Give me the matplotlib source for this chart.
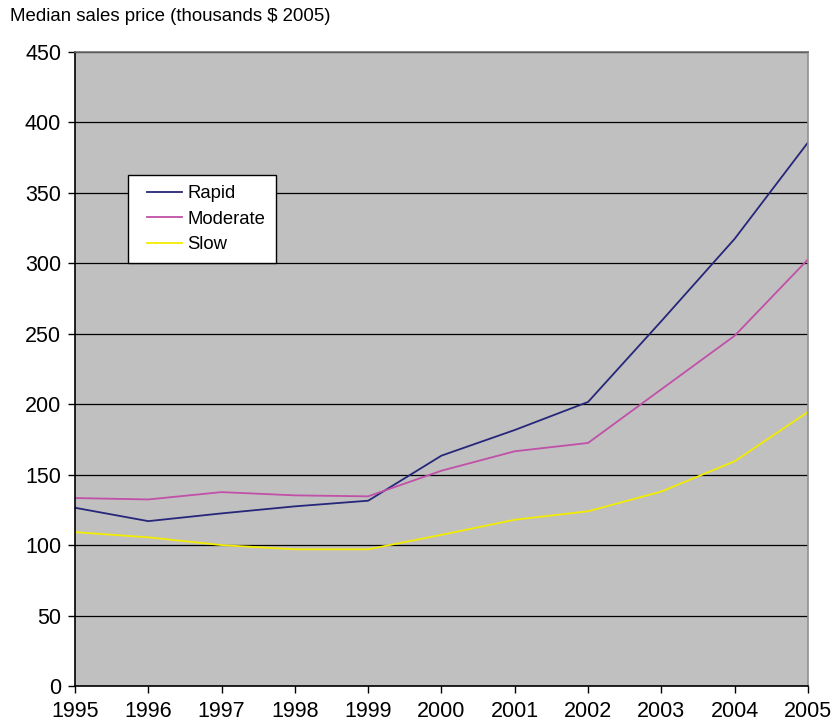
import numpy as np
import matplotlib
matplotlib.use('Agg')
import matplotlib.pyplot as plt
from matplotlib.legend_handler import HandlerLine2D

"""
median sales price by growth category, 1995-2005
"""

plt.rcParams['font.family'] = ['Liberation Sans', 'DejaVu Sans']

years = [1995, 1996, 1997, 1998, 1999, 2000, 2001, 2002, 2003, 2004, 2005]
rapid = [126.5, 117, 122.5, 127.5, 131.5, 163.5, 181.7, 201.6, 259, 317.4, 385.8]
moderate = [133.4, 132.4, 137.6, 135.3, 134.6, 152.8, 166.6, 172.5, 210.6, 248.6, 302.8]
slow = [109.2, 105.5, 100, 97, 97, 107.3, 118, 124, 138, 159.5, 194.5]
yticks = list(range(0, 451, 50))


class InsetLine(HandlerLine2D):
    # legend line that starts a bit in from the left of its slot
    def get_xdata(self, legend, xdescent, ydescent, width, height, fontsize):
        xdata, xmark = super().get_xdata(legend, xdescent, ydescent,
                                         width, height, fontsize)
        start = -xdescent + 0.2 * width
        return [start, -xdescent + width], xmark


def make_plot():
    fig = plt.figure(figsize=(8.34, 7.23), dpi=100)
    ax = fig.add_axes([0.0899, 0.0512, 0.8789, 0.8769])
    ax.set_facecolor('#c0c0c0')

    ax.plot(years, rapid, color='#26267a', lw=1.3, label='Rapid')
    ax.plot(years, moderate, color='#c050a8', lw=1.3, label='Moderate')
    ax.plot(years, slow, color='#f2ec00', lw=1.3, label='Slow')

    ax.set_xlim(years[0], years[-1])
    ax.set_ylim(0, 450)
    ax.set_xticks(years)
    ax.set_yticks(yticks)
    ax.tick_params(labelsize=15.5, length=5, width=1, color='black')
    ax.tick_params(axis='y', pad=5)
    ax.tick_params(axis='x', pad=6)
    ax.yaxis.grid(True, color='black', lw=0.9)
    ax.set_axisbelow(True)

    ax.spines['left'].set_color('black')
    ax.spines['bottom'].set_color('black')
    ax.spines['top'].set_color('#707070')
    ax.spines['right'].set_color('#909090')
    for s in ax.spines.values():
        s.set_linewidth(1.2)

    leg = ax.legend(loc='upper left', bbox_to_anchor=(0.0723, 0.806),
                    fontsize=13.3, frameon=True, fancybox=False,
                    edgecolor='black', framealpha=1, handlelength=2.4,
                    borderpad=0.55, labelspacing=0.46, handletextpad=0.28,
                    borderaxespad=0, handler_map={plt.Line2D: InsetLine()})
    leg.get_frame().set_linewidth(1)

    fig.text(0.012, 0.977, 'Median sales price (thousands $ 2005)',
             fontsize=13.4, va='center', ha='left')
    fig.savefig('out.png', dpi=100)


make_plot()
